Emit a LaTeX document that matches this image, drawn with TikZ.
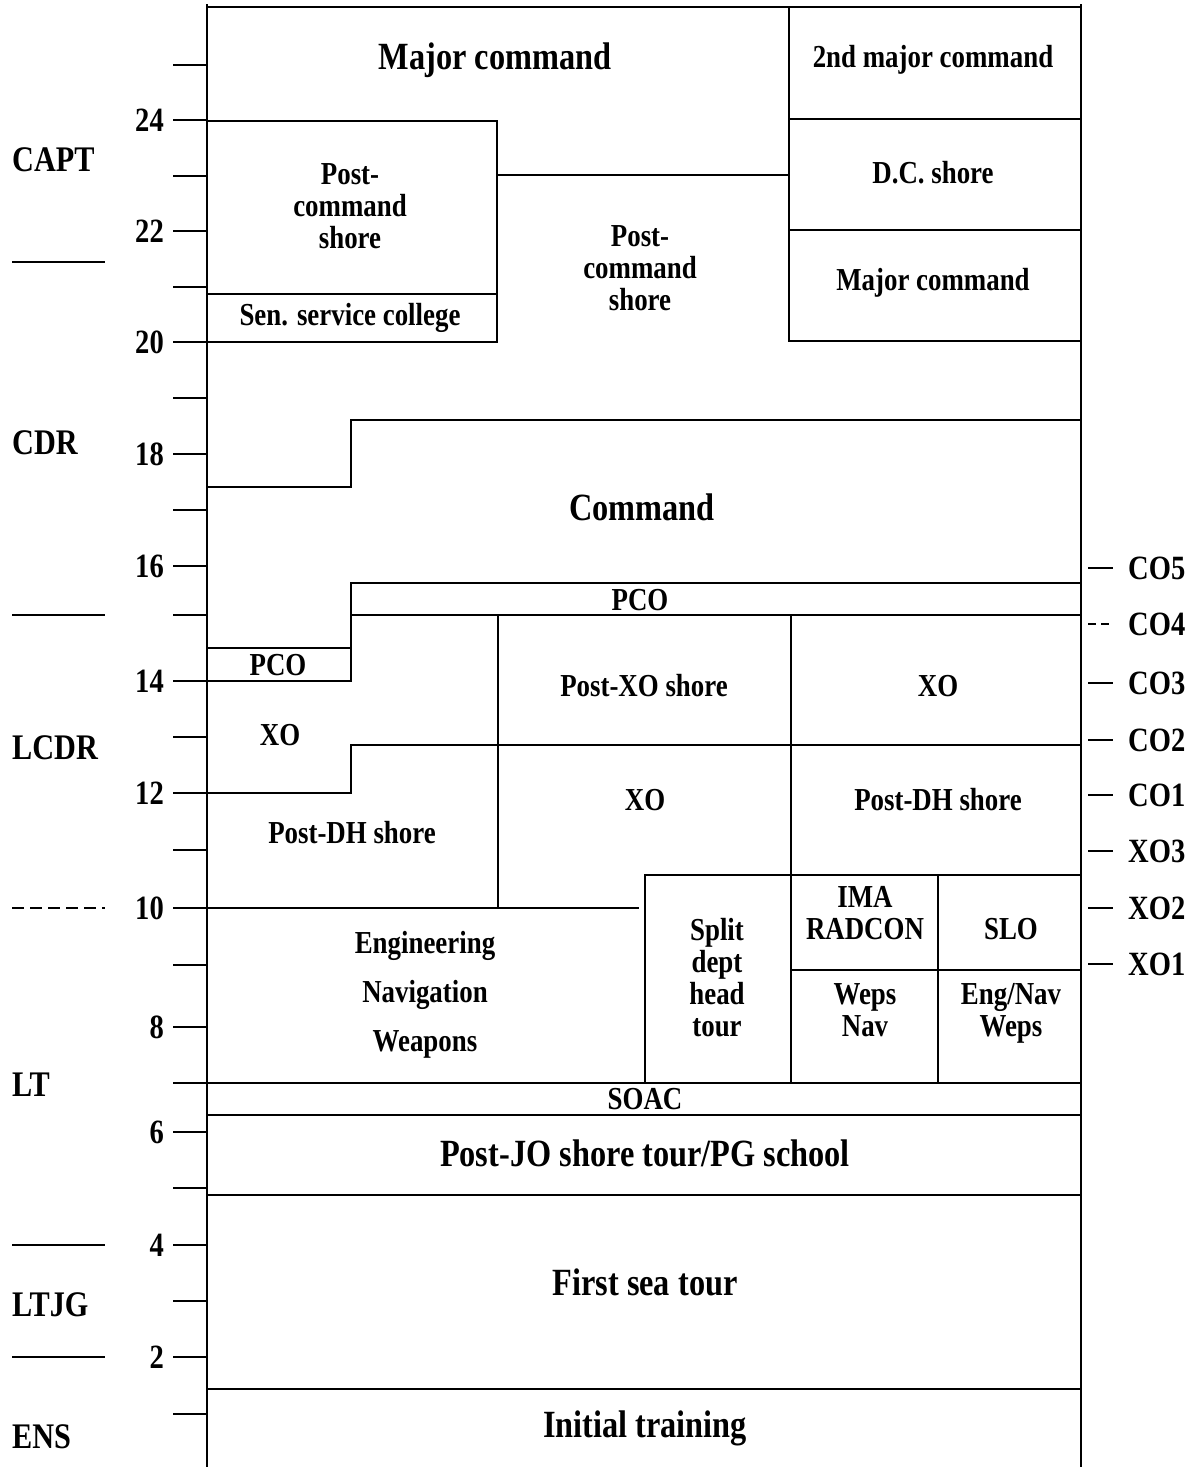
\documentclass[tikz,border=0pt]{standalone}
\usepackage{fontspec}
\setmainfont[FakeStretch=0.84]{Liberation Serif}
\begin{document}
\begin{tikzpicture}[x=1pt,y=-1pt,
  ln/.style={line width=1.8pt, line cap=rect},
  tk/.style={line width=1.8pt},
  big/.style={font=\fontsize{38.5}{40}\selectfont\bfseries, inner sep=0pt},
  med/.style={font=\fontsize{32}{32}\selectfont\bfseries, align=center, inner sep=0pt},
  num/.style={font=\fontsize{34}{34}\selectfont\bfseries, anchor=east, inner sep=0pt},
  rank/.style={font=\fontsize{36}{36}\selectfont\bfseries, anchor=west, inner sep=0pt},
  rlab/.style={font=\fontsize{34}{34}\selectfont\bfseries, anchor=west, inner sep=0pt}]
\useasboundingbox (0,0) rectangle (1200,1467);

% frame
\draw[ln] (207,5) -- (207,1467);
\draw[ln] (1081,5) -- (1081,1467);
\draw[ln] (207,7) -- (1081,7);

% top right column
\draw[ln] (789,7) -- (789,341) -- (1081,341);
\draw[ln] (789,119) -- (1081,119);
\draw[ln] (789,230) -- (1081,230);
\draw[ln] (497,175) -- (789,175);

% left post-command box
\draw[ln] (207,121) -- (497,121) -- (497,342) -- (207,342);
\draw[ln] (207,294) -- (497,294);

% command region
\draw[ln] (207,487) -- (351,487) -- (351,420) -- (1081,420);
\draw[ln] (207,681) -- (351,681) -- (351,583) -- (1081,583);
\draw[ln] (207,648) -- (351,648);
\draw[ln] (351,615) -- (1081,615);

% LCDR region
\draw[ln] (498,615) -- (498,908);
\draw[ln] (791,615) -- (791,1083);
\draw[ln] (207,793) -- (351,793) -- (351,745) -- (1081,745);
\draw[ln] (207,908) -- (498,908);
\draw[ln] (498,908) -- (638,908);

% split dept / small boxes
\draw[ln] (645,1083) -- (645,875) -- (1081,875);
\draw[ln] (938,875) -- (938,1083);
\draw[ln] (791,970) -- (1081,970);

% lower bands
\draw[ln] (207,1083) -- (1081,1083);
\draw[ln] (207,1115) -- (1081,1115);
\draw[ln] (207,1195) -- (1081,1195);
\draw[ln] (207,1389) -- (1081,1389);

% left ticks
\foreach \y in {65,120,176,231,287,342,398,454,510,566,615,681,737,793,850,908,965,1027,1083,1132,1188,1245,1301,1357,1414}
  \draw[tk] (173,\y) -- (207,\y);

% year numbers
\node[num] (n24) at (164,120) {24};
\node[num] (n22) at (164,231) {22};
\node[num] (n20) at (164,342) {20};
\node[num] (n18) at (164,454) {18};
\node[num] (n16) at (164,566) {16};
\node[num] (n14) at (164,681) {14};
\node[num] (n12) at (164,793) {12};
\node[num] (n10) at (164,908) {10};
\node[num] (n8) at (164,1027) {8};
\node[num] (n6) at (164,1132) {6};
\node[num] (n4) at (164,1245) {4};
\node[num] (n2) at (164,1357) {2};

% rank dividers
\draw[tk] (12,262) -- (105,262);
\draw[tk] (12,615) -- (105,615);
\draw[tk, dash pattern=on 12pt off 6pt] (12,908) -- (105,908);
\draw[tk] (12,1245) -- (105,1245);
\draw[tk] (12,1357) -- (105,1357);

% ranks
\node[rank] (capt) at (12,160) {CAPT};
\node[rank] (cdr) at (12,443) {CDR};
\node[rank] (lcdr) at (12,748) {LCDR};
\node[rank] (lt) at (12,1085) {LT};
\node[rank] (ltjg) at (12,1305) {LTJG};
\node[rank] (ens) at (12,1437) {ENS};

% right ticks and labels
\foreach \y in {568,683,740,795,851,908,964}
  \draw[tk] (1088,\y) -- (1113,\y);
\draw[tk, dash pattern=on 8pt off 5pt] (1088,624) -- (1113,624);
\node[rlab] (co5) at (1128,568) {CO5};
\node[rlab] (co4) at (1128,624) {CO4};
\node[rlab] (co3) at (1128,683) {CO3};
\node[rlab] (co2) at (1128,740) {CO2};
\node[rlab] (co1) at (1128,795) {CO1};
\node[rlab] (xo3) at (1128,851) {XO3};
\node[rlab] (xo2) at (1128,908) {XO2};
\node[rlab] (xo1) at (1128,964) {XO1};

% texts
\node[big] (majcmd) at (495,60) {Major command};
\node[med] (secmaj) at (933,60) {2nd major command};
\node[med] (dcshore) at (933,173) {D.C. shore};
\node[med] (majcmd2) at (933,283) {Major command};
\node[med] (pcsl) at (350,206) {Post-\\command\\shore};
\node[med] (ssc) at (350,318) {Sen. service college};
\node[med] (pcsm) at (640,268) {Post-\\command\\shore};
\node[big] (cmd) at (642,507) {Command};
\node[med] (pco1) at (640,600) {PCO};
\node[med] (pco2) at (278,665) {PCO};
\node[med] (xo1t) at (280,735) {XO};
\node[med] (pxo) at (644,686) {Post-XO shore};
\node[med] (xo2t) at (938,686) {XO};
\node[med] (xo3t) at (645,800) {XO};
\node[med] (pdh1) at (938,800) {Post-DH shore};
\node[med] (pdh2) at (352,833) {Post-DH shore};
\node[med, font=\fontsize{32}{49}\selectfont\bfseries] (eng) at (425,995) {Engineering\\Navigation\\Weapons};
\node[med] (split) at (717,978) {Split\\dept\\head\\tour};
\node[med] (ima) at (865,913) {IMA\\RADCON};
\node[med] (slo) at (1011,929) {SLO};
\node[med] (wepsnav) at (865,1010) {Weps\\Nav};
\node[med] (engnav) at (1011,1013) {Eng/Nav\\Weps};
\node[med] (soac) at (645,1099) {SOAC};
\node[big] (pjo) at (645,1153) {Post-JO shore tour/PG school};
\node[big] (fst) at (645,1282) {First sea tour};
\node[big] (init) at (645,1428) {Initial training};
\end{tikzpicture}
\end{document}
